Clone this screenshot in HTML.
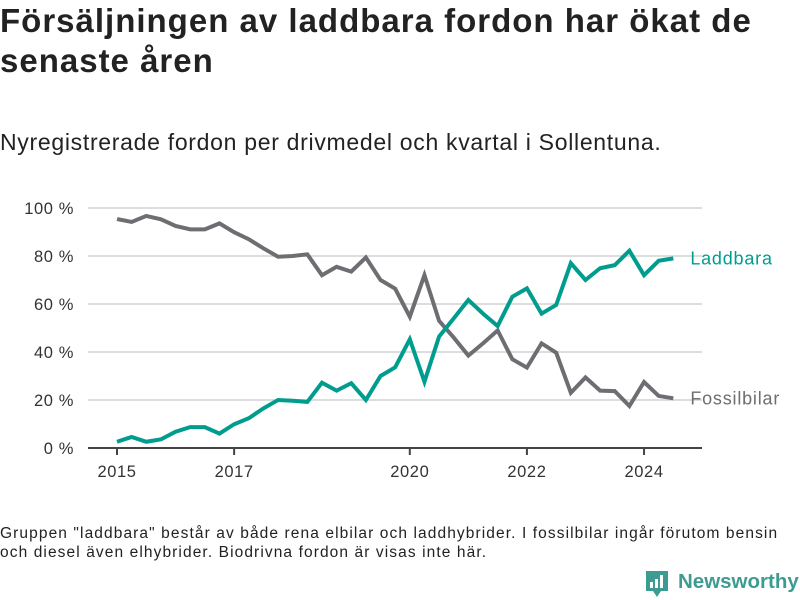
<!DOCTYPE html>
<html><head><meta charset="utf-8"><style>
body{margin:0;width:800px;height:600px;background:#fff;font-family:"Liberation Sans",sans-serif;color:#222;position:relative;overflow:hidden}
.t{position:absolute;left:0;top:1px;font-size:33px;font-weight:bold;line-height:40px;letter-spacing:1px;width:785px}
.s{position:absolute;left:0;top:129px;font-size:23px;letter-spacing:0.7px;color:#222;white-space:nowrap}
.f{position:absolute;left:0;top:524px;font-size:15.5px;letter-spacing:1.1px;line-height:19px;color:#222;white-space:nowrap}
</style></head><body>
<div class="t">Försäljningen av laddbara fordon har ökat de senaste åren</div>
<div class="s">Nyregistrerade fordon per drivmedel och kvartal i Sollentuna.</div>
<svg id="c" width="800" height="600" style="position:absolute;left:0;top:0"></svg>
<div class="f">Gruppen "laddbara" består av både rena elbilar och laddhybrider. I fossilbilar ingår förutom bensin<br>och diesel även elhybrider. Biodrivna fordon är visas inte här.</div>
<div style="position:absolute;left:645px;top:570px;height:30px">
<svg width="24" height="28" style="position:absolute;left:0;top:0"><path d="M1 1h22v20h-7l-4 6-4-6H1z" fill="#3d9c91"/><rect x="5" y="12" width="3" height="6" fill="#fff"/><rect x="10" y="9" width="3" height="9" fill="#fff"/><rect x="15" y="5" width="3" height="13" fill="#fff"/></svg>
<span style="position:absolute;left:33px;top:0px;font-size:20.5px;font-weight:bold;color:#3d9c91;white-space:nowrap">Newsworthy</span></div>
<script>
const laddbara=[2.6,4.6,2.6,3.6,6.8,8.7,8.7,6,9.9,12.4,16.5,20,19.7,19.2,27.2,23.9,27,20,30,33.6,45.3,27.6,46.4,54,61.7,56,50.8,63,66.5,56,59.6,77,70,74.9,76.2,82.2,72,78,79];
const fossil=[95.4,94.2,96.7,95.3,92.5,91.1,91.1,93.6,89.9,87,83.2,79.7,80,80.7,72,75.5,73.5,79.4,70,66.4,54.7,72,53,46,38.5,43.6,49,37,33.5,43.6,39.7,23,29.4,23.9,23.7,17.5,27.5,21.7,20.7];
const yTicks=[0,20,40,60,80,100];
const xTicks=[2015,2017,2020,2022,2024];
const svg=document.getElementById('c');const NS='http://www.w3.org/2000/svg';
const x=q=>117+q*14.64, xy=yr=>x((yr-2015)*4), y=v=>448-v*2.4;
function mk(t,a){const e=document.createElementNS(NS,t);for(const k in a)e.setAttribute(k,a[k]);svg.appendChild(e);return e;}
yTicks.forEach(v=>{
 if(v>0){const g=mk('line',{x1:88,x2:702,y1:y(v),y2:y(v),stroke:'#ddd','stroke-width':2});
 
 }
 const t=mk('text',{x:74,y:y(v)+6,'text-anchor':'end','font-size':16.5,'letter-spacing':0.6,fill:'#333'});t.textContent=v+' %';
 
 
});
const ax=mk('line',{x1:88,x2:702,y1:448,y2:448,stroke:'#444','stroke-width':2});


xTicks.forEach(yr=>{
 const l=mk('line',{x1:xy(yr),x2:xy(yr),y1:448,y2:455,stroke:'#444','stroke-width':2});
 
 
 const t=mk('text',{x:xy(yr),y:477,'text-anchor':'middle','font-size':16.5,'letter-spacing':0.6,fill:'#333'});t.textContent=yr;
 
 
});
function line(d,c,name,label){
 const p=mk('polyline',{points:d.map((v,i)=>x(i)+','+y(v)).join(' '),fill:'none',stroke:c,'stroke-width':4,'stroke-linejoin':'miter'});
 
 
 const t=mk('text',{x:x(d.length-1)+17,y:y(d[d.length-1])+6,'font-size':18,'letter-spacing':0.8,fill:c});t.textContent=label;
 
 
}
line(fossil,'#6e6d72','fossilbilar','Fossilbilar');
line(laddbara,'#009d8f','laddbara','Laddbara');
</script>
</body></html>
